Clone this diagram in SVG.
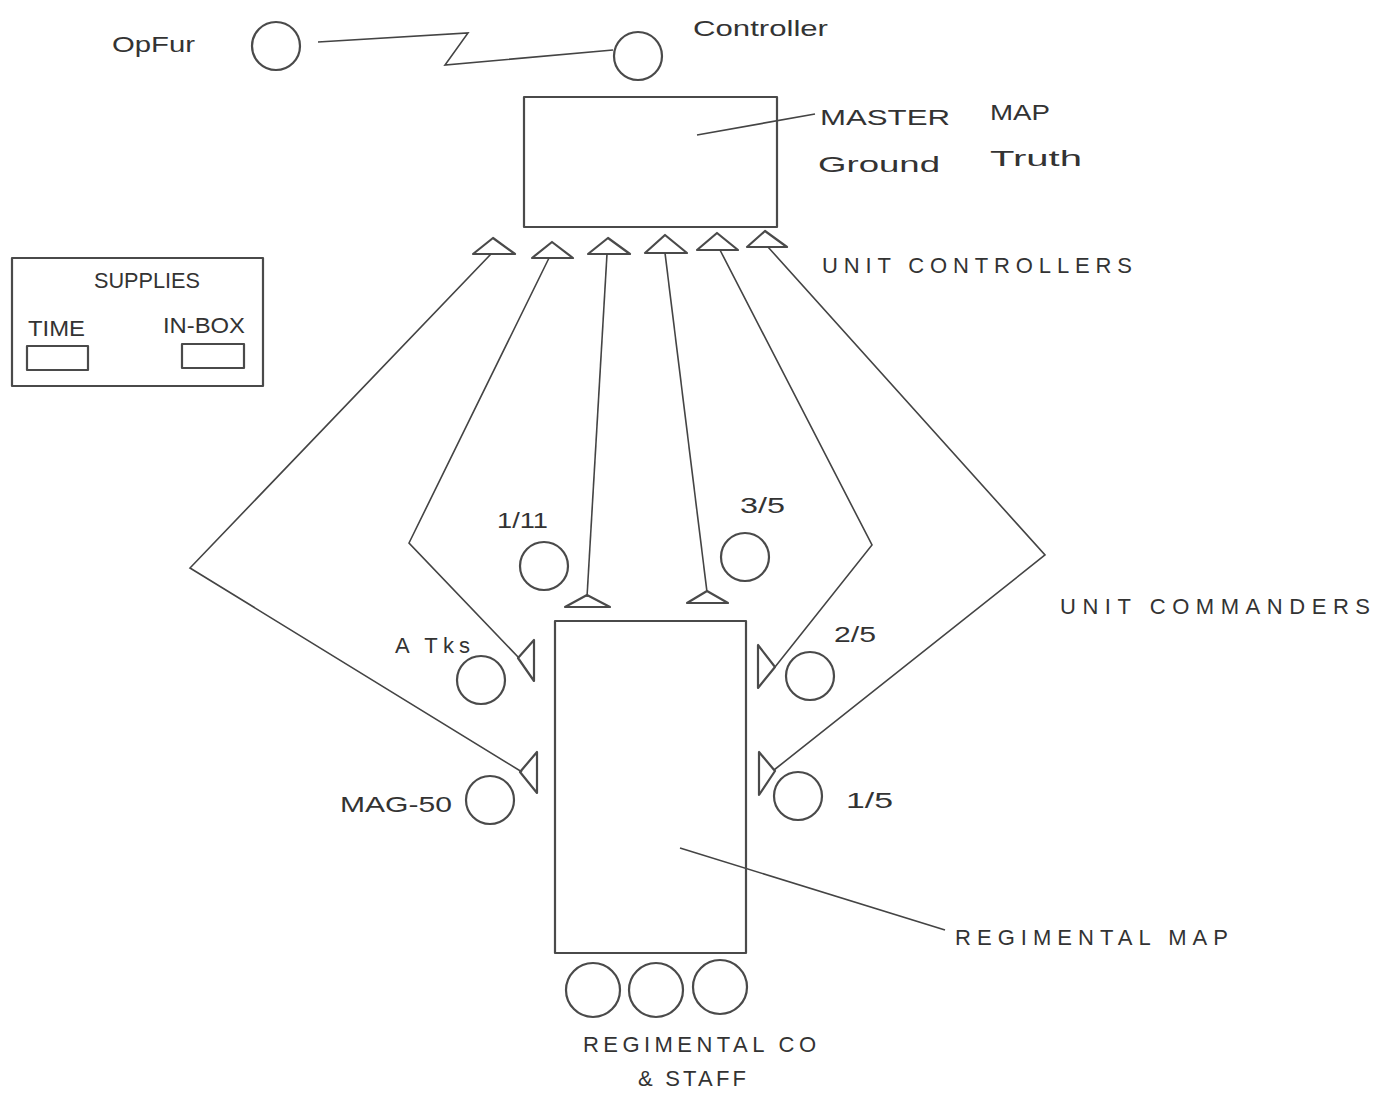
<svg xmlns="http://www.w3.org/2000/svg" width="1392" height="1095" viewBox="0 0 1392 1095">
<style>
.s{fill:none;stroke:#4a4a4a;stroke-width:2.2;stroke-linejoin:round}
.c{fill:none;stroke:#444;stroke-width:1.6}
.t{font-family:"Liberation Sans",Arial,sans-serif;fill:#333;font-size:22px}
.lab{font-family:"Liberation Sans",Arial,sans-serif;fill:#333;font-size:22px}
</style>
<rect width="1392" height="1095" fill="#fff"/>
<g id="opfor"><circle class="s" cx="276" cy="46" r="24"/><text class="t" x="112" y="52" textLength="83" lengthAdjust="spacingAndGlyphs">OpFur</text></g>
<g id="controller"><circle class="s" cx="638" cy="56" r="24"/><text class="t" x="693" y="36" textLength="135" lengthAdjust="spacingAndGlyphs">Controller</text></g>
<g id="master-map"><rect class="s" x="524" y="97" width="253" height="130"/>
<line class="c" x1="697" y1="135" x2="815" y2="114"/>
<text class="t" x="820" y="125" font-size="26" textLength="130" lengthAdjust="spacingAndGlyphs">MASTER</text>
<text class="t" x="990" y="120" font-size="26" textLength="60" lengthAdjust="spacingAndGlyphs">MAP</text>
<text class="t" x="818" y="172" font-size="28" textLength="122" lengthAdjust="spacingAndGlyphs">Ground</text>
<text class="t" x="990" y="166" font-size="28" textLength="92" lengthAdjust="spacingAndGlyphs">Truth</text></g>
<g id="unit-controllers">
<polygon class="s" points="473,254 493,238 515,254"/>
<polygon class="s" points="532,258 552,242 573,258"/>
<polygon class="s" points="588,254 608,238 630,254"/>
<polygon class="s" points="645,253 665,235 687,253"/>
<polygon class="s" points="697,250 717,233 738,250"/>
<polygon class="s" points="747,247 765,231 787,247"/>
<text class="t" x="822" y="273" textLength="310" lengthAdjust="spacing">UNIT  CONTROLLERS</text></g>
<g id="supplies"><rect class="s" x="12" y="258" width="251" height="128"/>
<text class="t" x="94" y="288" font-size="19" textLength="106" lengthAdjust="spacingAndGlyphs">SUPPLIES</text>
<text class="t" x="28" y="336" font-size="19" textLength="57" lengthAdjust="spacingAndGlyphs">TIME</text>
<text class="t" x="163" y="333" font-size="19" textLength="82" lengthAdjust="spacingAndGlyphs">IN-BOX</text>
<rect class="s" x="27" y="346" width="61" height="24"/>
<rect class="s" x="182" y="344" width="62" height="24"/></g>
<g id="connectors">
<polyline class="c" points="318,42 468,33 445,65 613,50"/>
<polyline class="c" points="491,254 190,568 522,772"/>
<polyline class="c" points="549,258 409,543 519,658"/>
<polyline class="c" points="607,254 587,597"/>
<polyline class="c" points="665,253 707,592"/>
<polyline class="c" points="720,250 872,545 775,667"/>
<polyline class="c" points="768,247 1045,555 774,770"/>
<line class="c" x1="680" y1="848" x2="945" y2="930"/>
</g>
<g id="unit-1-11"><circle class="s" cx="544" cy="566" r="24"/><text class="t" x="497" y="528" textLength="51" lengthAdjust="spacingAndGlyphs">1/11</text>
<polygon class="s" points="565,607 587,595 610,607"/></g>
<g id="unit-3-5"><circle class="s" cx="745" cy="557" r="24"/><text class="t" x="740" y="513" textLength="45" lengthAdjust="spacingAndGlyphs">3/5</text>
<polygon class="s" points="687,603 707,591 728,603"/></g>
<g id="unit-a-tks"><circle class="s" cx="481" cy="680" r="24"/><text class="t" x="395" y="653" textLength="75" lengthAdjust="spacing">A Tks</text>
<polygon class="s" points="534,640 534,681 518,658"/></g>
<g id="unit-mag-50"><circle class="s" cx="490" cy="800" r="24"/><text class="t" x="340" y="812" textLength="112" lengthAdjust="spacingAndGlyphs">MAG-50</text>
<polygon class="s" points="537,752 537,793 520,772"/></g>
<g id="unit-2-5"><circle class="s" cx="810" cy="676" r="24"/><text class="t" x="834" y="642" textLength="42" lengthAdjust="spacingAndGlyphs">2/5</text>
<polygon class="s" points="758,645 758,688 775,667"/></g>
<g id="unit-1-5"><circle class="s" cx="798" cy="796" r="24"/><text class="t" x="846" y="808" textLength="47" lengthAdjust="spacingAndGlyphs">1/5</text>
<polygon class="s" points="759,752 759,795 775,771"/></g>
<g id="unit-commanders-label"><text class="t" x="1060" y="614" textLength="310" lengthAdjust="spacing">UNIT  COMMANDERS</text></g>
<g id="regimental-map"><rect class="s" x="555" y="621" width="191" height="332"/>
<text class="t" x="955" y="945" textLength="273" lengthAdjust="spacing">REGIMENTAL  MAP</text></g>
<g id="regimental-staff">
<circle class="s" cx="593" cy="990" r="27"/>
<circle class="s" cx="656" cy="990" r="27"/>
<circle class="s" cx="720" cy="987" r="27"/>
<text class="t" x="583" y="1052" textLength="233" lengthAdjust="spacing">REGIMENTAL  CO</text>
<text class="t" x="638" y="1086" textLength="108" lengthAdjust="spacing">&amp;  STAFF</text></g>
</svg>
